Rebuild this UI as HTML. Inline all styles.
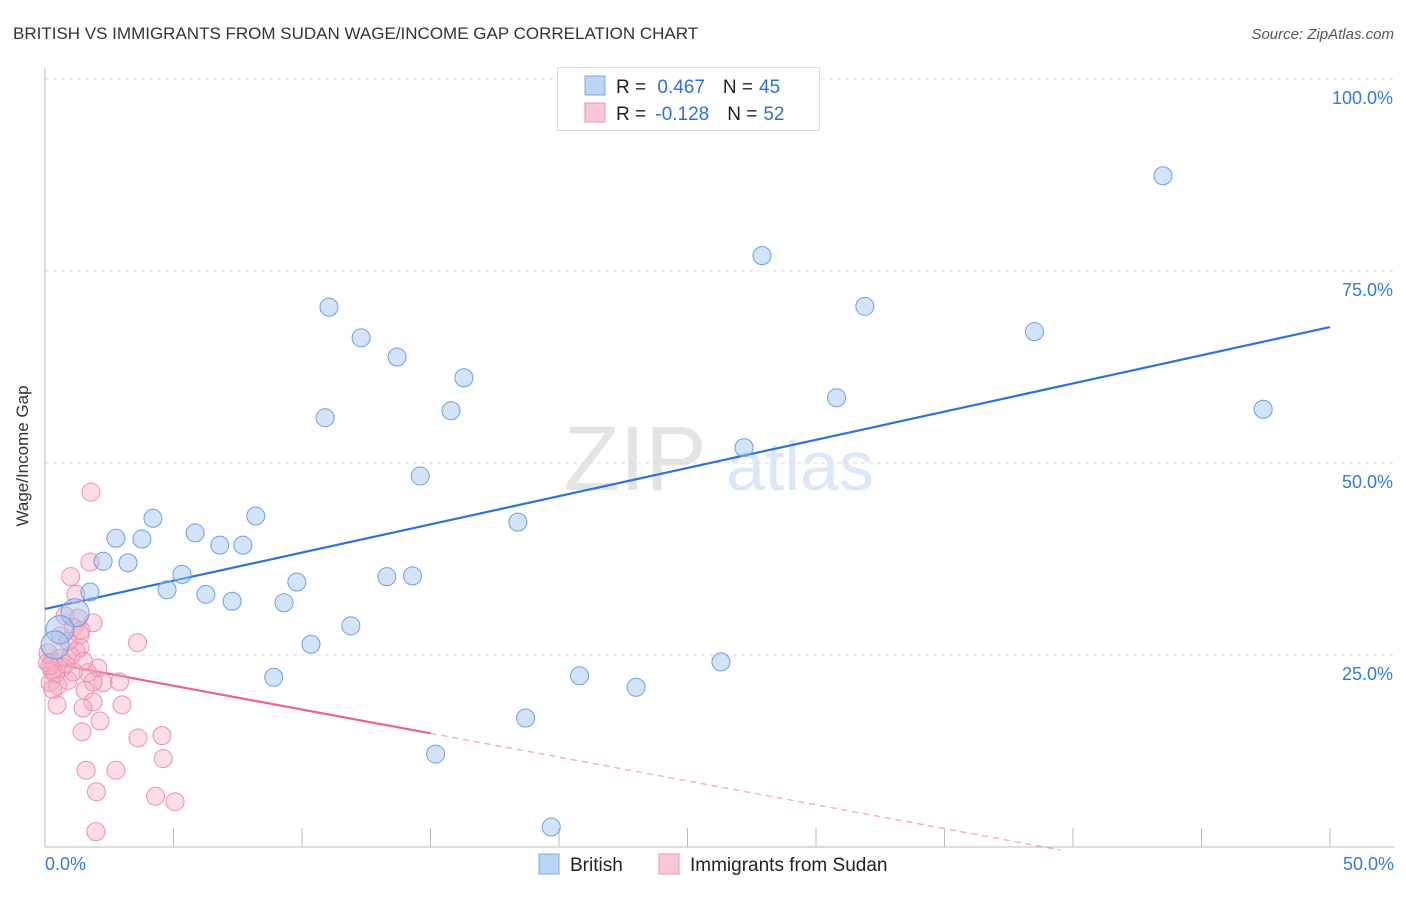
<!DOCTYPE html>
<html><head><meta charset="utf-8"><style>
body{margin:0;background:#fff;font-family:"Liberation Sans",sans-serif;}
svg text{font-family:"Liberation Sans",sans-serif;}
</style></head><body>
<svg id="chart" width="1406" height="892" xmlns="http://www.w3.org/2000/svg">
<text x="13" y="39" font-size="17" fill="#333">BRITISH VS IMMIGRANTS FROM SUDAN WAGE/INCOME GAP CORRELATION CHART</text>
<text x="1394" y="39" font-size="15" fill="#555" text-anchor="end" font-style="italic">Source: ZipAtlas.com</text>
<text x="635" y="490" font-size="92" fill="#e4e4e4" text-anchor="middle" font-family="Liberation Serif">ZIP</text>
<text x="800" y="490" font-size="70" fill="#dce8f7" text-anchor="middle">atlas</text>
<g id="grid"></g>
<line x1="45" y1="68" x2="45" y2="847" stroke="#bbb"/>
<line x1="45" y1="847" x2="1394" y2="847" stroke="#bbb"/>
<g id="ticks"></g>
<g id="trends"></g>
<g id="points"></g>
<text x="28" y="456" font-size="17" fill="#333" text-anchor="middle" transform="rotate(-90 28 456)">Wage/Income Gap</text>
<g>
<rect x="557.5" y="67.5" width="262" height="63" fill="#fff" stroke="#ddd"/>
<rect x="585" y="76" width="20" height="19" fill="#bcd5f5" stroke="#7aa7e6"/>
<rect x="585" y="103" width="20" height="19" fill="#f9c8d6" stroke="#ee95b0"/>
<text x="616" y="93" font-size="19" fill="#222">R = <tspan fill="#2f6fd6" dx="6">0.467</tspan><tspan dx="18">N =</tspan><tspan fill="#2f6fd6" dx="6">45</tspan></text>
<text x="616" y="120" font-size="19" fill="#222">R = <tspan fill="#2f6fd6" dx="4">-0.128</tspan><tspan dx="18">N =</tspan><tspan fill="#2f6fd6" dx="6">52</tspan></text>
</g>
<g>
<rect x="539" y="854" width="20" height="20" fill="#bcd5f5" stroke="#7aa7e6"/>
<text x="570" y="871" font-size="19" fill="#222">British</text>
<rect x="659" y="854" width="20" height="20" fill="#f9c8d6" stroke="#ee95b0"/>
<text x="690" y="871" font-size="19" fill="#222">Immigrants from Sudan</text>
</g>
<text x="45" y="870" font-size="18" fill="#3a78d8">0.0%</text>
<text x="1394" y="870" font-size="18" fill="#3a78d8" text-anchor="end">50.0%</text>
</svg>
<script>
const yTicks=[25,50,75,100];
const yTickLabels=["25.0%","50.0%","75.0%","100.0%"];
const xTickVals=[0,5,10,15,20,25,30,35,40,45,50];
const britishX=[43.5,27.9,31.9,11.05,12.3,38.5,13.7,16.3,15.8,30.8,47.4,10.9,27.2,14.6,18.4,4.2,8.2,2.76,3.77,5.84,6.8,7.7,2.26,3.23,5.33,4.75,9.8,13.3,14.3,6.26,7.28,9.3,1.75,1.17,0.58,0.39,11.9,10.35,26.3,8.9,20.8,23.0,18.7,15.2,19.7];
const britishY=[87.4,77.0,70.4,70.3,66.3,67.1,63.8,61.1,56.8,58.5,57.0,55.9,52.0,48.3,42.3,42.8,43.1,40.2,40.1,40.9,39.3,39.3,37.2,37.0,35.5,33.5,34.5,35.2,35.3,32.9,32.0,31.8,33.2,30.5,28.3,26.3,28.8,26.4,24.1,22.1,22.3,20.8,16.8,12.1,2.6];
const sudanX=[1.79,1.75,1.0,1.2,0.78,1.3,1.87,1.1,1.36,1.36,3.6,0.12,0.3,0.58,0.7,0.27,2.06,1.67,0.9,0.2,2.26,2.9,1.87,1.56,1.87,0.47,3.0,1.48,2.14,1.44,3.62,4.55,4.6,1.6,2.76,2.0,4.3,5.06,1.98,0.1,0.4,0.8,1.0,0.5,1.2,0.9,0.3,1.5,0.6,1.1,0.2,1.4];
const sudanY=[46.2,37.1,35.2,32.9,30.1,29.8,29.2,28.6,27.6,26.0,26.6,25.3,24.1,24.6,23.4,23.0,23.3,22.7,21.7,21.4,21.4,21.5,21.5,20.4,18.9,18.5,18.5,18.1,16.4,15.0,14.2,14.5,11.5,10.0,10.0,7.2,6.6,5.9,2.0,24.0,22.5,23.8,24.9,21.0,25.5,26.8,20.5,24.2,27.5,22.8,23.6,28.2];
const britishTrend=[31.0,67.7];
const sudanTrend=[24.1,-0.62];
const NS="http://www.w3.org/2000/svg";
const xs=v=>45+v*25.7;
const ys=v=>847-v*7.68;
function mk(tag,attrs,parent){const e=document.createElementNS(NS,tag);for(const k in attrs)e.setAttribute(k,attrs[k]);document.getElementById(parent).appendChild(e);return e;}
yTicks.forEach((t,i)=>{
 const l=mk('line',{x1:45,x2:1394,y1:ys(t),y2:ys(t),stroke:'#ddd','stroke-dasharray':'4,4'},'grid');
 
 
 const tx=mk('text',{x:1393,y:ys(t)+25,'font-size':18,fill:'#3a78d8','text-anchor':'end'},'grid');
 tx.textContent=yTickLabels[i];
 
 
});
xTickVals.forEach(v=>{
 const l=mk('line',{x1:xs(v),x2:xs(v),y1:828,y2:847,stroke:'#bbb'},'ticks');
 
 
});
let b=mk('line',{x1:xs(0),y1:ys(britishTrend[0]),x2:xs(50),y2:ys(britishTrend[1]),stroke:'#2f72d6','stroke-width':2.2},'trends');


let p=mk('line',{x1:xs(0),y1:ys(sudanTrend[0]),x2:xs(15),y2:ys(sudanTrend[0]+sudanTrend[1]*15),stroke:'#e8638f','stroke-width':2.2},'trends');


let pd=mk('line',{x1:xs(15),y1:ys(sudanTrend[0]+sudanTrend[1]*15),x2:xs(39.5),y2:ys(sudanTrend[0]+sudanTrend[1]*39.5),stroke:'#f0a0b8','stroke-width':1.2,'stroke-dasharray':'6,5'},'trends');


sudanX.forEach((x,i)=>{
 const c=mk('circle',{cx:xs(x),cy:ys(sudanY[i]),r:9,fill:'rgba(246,170,195,0.4)',stroke:'#ee8fb0','stroke-width':1},'points');
 
 
});
britishX.forEach((x,i)=>{
 const big=(x<1.2&&britishY[i]<31);
 const c=mk('circle',{cx:xs(x),cy:ys(britishY[i]),r:big?14:9,fill:'rgba(160,196,240,0.45)',stroke:'#6b9fe2','stroke-width':1},'points');
 
 
});
</script>
</body></html>
